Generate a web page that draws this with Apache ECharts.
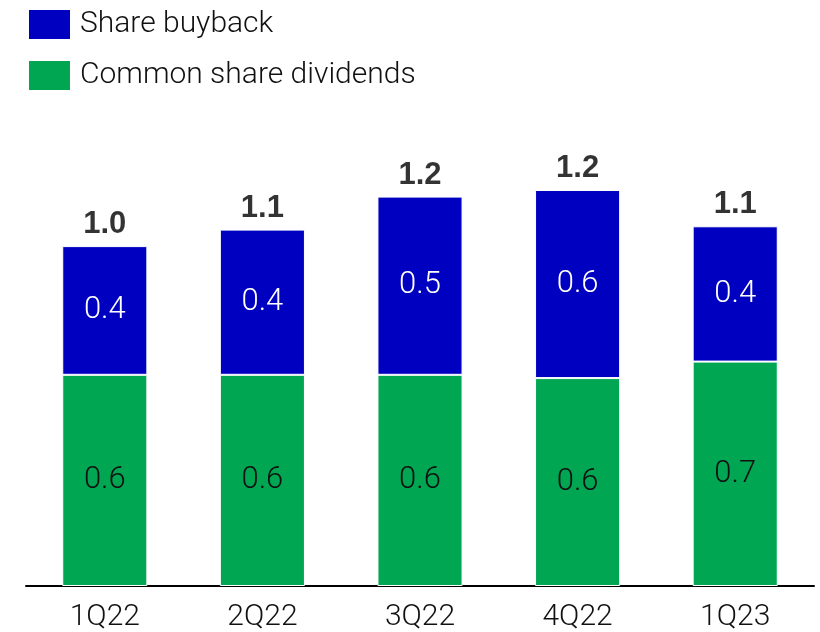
<!DOCTYPE html>
<html>
<head>
    <meta charset="UTF-8">
    <title>Share buyback and dividends</title>
    <script src="https://cdn.jsdelivr.net/npm/echarts@6/dist/echarts.min.js"></script>
    <style>
        html, body { margin: 0; padding: 0; background: #fff; }
        #chart { width: 820px; height: 632px; }
    </style>
</head>
<body>
    <div id="chart"></div>

    <script>
        // quarters and values
        const quarters = ['1Q22', '2Q22', '3Q22', '4Q22', '1Q23'];
        const dividends = [0.64, 0.64, 0.64, 0.63, 0.68];
        const buyback = [0.39, 0.44, 0.54, 0.57, 0.41];
        const totals = quarters.map((q, i) => dividends[i] + buyback[i]);

        const lightFont = 'Roboto, "Liberation Sans", Arial, sans-serif';
        const myChart = echarts.init(document.getElementById('chart'));

        const option = {
            animation: false,
            legend: {
                orient: 'vertical',
                left: 27,
                top: 8,
                padding: 0,
                itemWidth: 43,
                itemHeight: 31,
                itemGap: 18,
                icon: 'rect',
                data: ['Share buyback', 'Common share dividends'],
                textStyle: { fontSize: 30, color: '#111', fontFamily: lightFont, fontWeight: 300, padding: [0, 0, 0, 4] }
            },
            grid: { left: 26, right: 6, top: 91, bottom: 45 },
            xAxis: {
                type: 'category',
                data: quarters,
                axisLine: { lineStyle: { color: '#000', width: 2 } },
                axisTick: { show: false },
                axisLabel: { fontSize: 30, color: '#111', margin: 16, fontFamily: lightFont, fontWeight: 300 }
            },
            yAxis: { type: 'value', min: 0, max: 1.5, show: false, splitLine: { show: false } },
            series: [
                {
                    name: 'Common share dividends',
                    type: 'bar',
                    stack: 'a',
                    barWidth: '54%',
                    data: dividends,
                    itemStyle: { color: '#00A651', borderColor: '#fff', borderWidth: 1 },
                    label: {
                        show: true, position: 'inside', fontSize: 31, color: '#111',
                        fontFamily: lightFont, fontWeight: 300,
                        formatter: p => p.value.toFixed(1)
                    }
                },
                {
                    name: 'Share buyback',
                    type: 'bar',
                    stack: 'a',
                    data: buyback,
                    itemStyle: { color: '#0000C0', borderColor: '#fff', borderWidth: 1 },
                    label: {
                        show: true, position: 'inside', fontSize: 31, color: '#fff',
                        fontFamily: lightFont, fontWeight: 300,
                        formatter: p => p.value.toFixed(1)
                    }
                },
                {
                    name: 'Total',
                    type: 'scatter',
                    data: totals,
                    symbolSize: 0,
                    silent: true,
                    label: {
                        show: true, position: 'top', distance: 6, fontSize: 31, fontWeight: 'bold',
                        color: '#000', fontFamily: '"Liberation Sans", Arial, sans-serif',
                        formatter: p => p.value.toFixed(1)
                    }
                }
            ]
        };

        myChart.setOption(option);
    </script>
</body>
</html>
